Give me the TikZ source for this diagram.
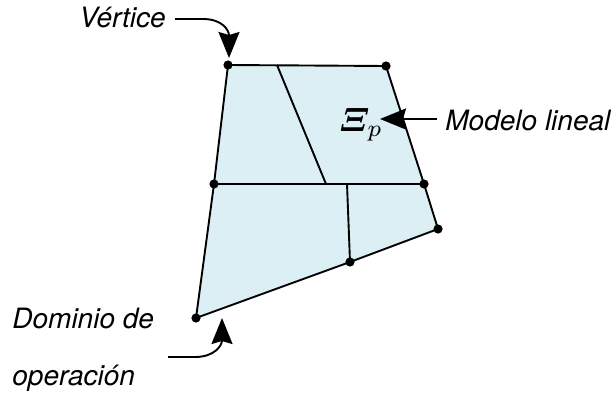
\documentclass[tikz,border=0pt]{standalone}
\usepackage{amsmath,amssymb,bm}
\usepackage{fontspec}
\newfontfamily\labelfont{TeX Gyre Heros}
\usetikzlibrary{arrows.meta}
\definecolor{regionfill}{RGB}{220,239,244}

\begin{document}
\begin{tikzpicture}[x=0.5pt,y=-0.5pt,
  lbl/.style={font=\labelfont\itshape\fontsize{14}{16}\selectfont,inner sep=0pt},
  edge/.style={line width=0.95pt,line join=round},
  pointer/.style={line width=0.95pt,-{Stealth[length=13pt,width=10.5pt,inset=1.5pt]}},
  vtx/.style={circle,fill=black,inner sep=0pt,minimum size=4.6pt}]
\useasboundingbox (0,0) rectangle (613,396);
\coordinate (A) at (228,65);
\coordinate (B) at (386,66);
\coordinate (C) at (214,184);
\coordinate (D) at (424,184);
\coordinate (E) at (438,229);
\coordinate (F) at (196,318);
\coordinate (G) at (350,262);
\coordinate (T) at (277,65);
\coordinate (M) at (326,184);
\coordinate (K) at (347,184);
\fill[regionfill] (A) -- (B) -- (D) -- (E) -- (G) -- (F) -- (C) -- cycle;
\draw[edge] (A) -- (B) -- (D) -- (E) -- (G) -- (F) -- (C) -- cycle;
\draw[edge] (T) -- (M);
\draw[edge] (C) -- (D);
\draw[edge] (K) -- (G);
\foreach \p in {A,B,C,D,E,F,G}
  \node[vtx] (v\p) at (\p) {};
\node[inner sep=0pt] (xi) at (361,125) {\scalebox{1.7}{$\bm{\varXi}_{p}$}};
\node[lbl,anchor=base east] (vertice) at (166,27) {Vértice};
\node[lbl,anchor=base west] (modelo) at (445,130) {Modelo lineal};
\node[lbl,anchor=base west] (dominio) at (12,328) {Dominio de};
\node[lbl,anchor=base west] (operacion) at (12,385) {operación};
\coordinate (vstart) at (175,19);
\coordinate (vtip) at (229,58);
\coordinate (mstart) at (437,119);
\coordinate (xtip) at (380,119);
\coordinate (dstart) at (168,357);
\coordinate (dtip) at (222,318);
\draw[pointer] (vstart) -- ++(28,0) .. controls (222,19) and (229,30) .. (vtip);
\draw[pointer] (mstart) -- (xtip);
\draw[pointer] (dstart) -- ++(27,0) .. controls (215,357) and (222,345) .. (dtip);
\end{tikzpicture}
\end{document}
